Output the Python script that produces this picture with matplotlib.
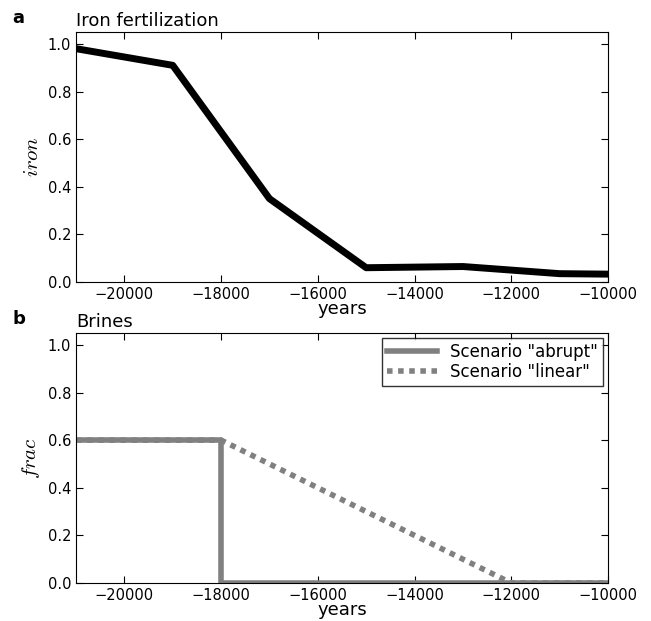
import matplotlib
matplotlib.use("Agg")
import matplotlib.pyplot as plt

plt.rcParams["mathtext.fontset"] = "cm"

iron_years = [-21000, -19000, -17000, -15000, -13000, -11000, -10000]
iron_vals = [0.98, 0.91, 0.35, 0.06, 0.065, 0.035, 0.033]

abrupt_years = [-21000, -18000, -18000, -10000]
abrupt_vals = [0.6, 0.6, 0.0, 0.0]
linear_years = [-21000, -18000, -12000, -10000]
linear_vals = [0.6, 0.6, 0.0, 0.0]

xticks = [-20000, -18000, -16000, -14000, -12000, -10000]
yticks = [0.0, 0.2, 0.4, 0.6, 0.8, 1.0]

fig = plt.figure(figsize=(6.51, 6.21), dpi=100)
ax1 = fig.add_axes([76/651, 1-282/621, 532/651, 250/621])
ax2 = fig.add_axes([76/651, 1-583/621, 532/651, 250/621])

ax1.plot(iron_years, iron_vals, color="black", lw=5)
ax2.plot(abrupt_years, abrupt_vals, color="gray", lw=4, label='Scenario "abrupt"')
ax2.plot(linear_years, linear_vals, color="gray", lw=4, ls=(0, (1, 1)),
         label='Scenario "linear"')
ax2.legend(loc="upper right", fontsize=12, frameon=True, fancybox=False,
           edgecolor="black", handlelength=3, borderaxespad=0.3,
           labelspacing=0.1, borderpad=0.3)

for ax, lab, ylab, title in [(ax1, "a", r"$iron$", "Iron fertilization"),
                             (ax2, "b", r"$frac$", "Brines")]:
    ax.set_xlim(-21000, -10000)
    ax.set_ylim(0, 1.05)
    ax.set_xticks(xticks)
    ax.set_yticks(yticks)
    ax.tick_params(direction="in", top=True, right=True, labelsize=10.5, length=5)
    ax.set_xlabel("years", fontsize=13, labelpad=-1)
    ax.set_ylabel(ylab, fontsize=15)
    ax.set_title(title, loc="left", fontsize=13, pad=4)
    ax.text(-0.12, 1.02, lab, transform=ax.transAxes, fontsize=13,
            fontweight="bold", va="bottom")

fig.savefig("out.png", dpi=100)
